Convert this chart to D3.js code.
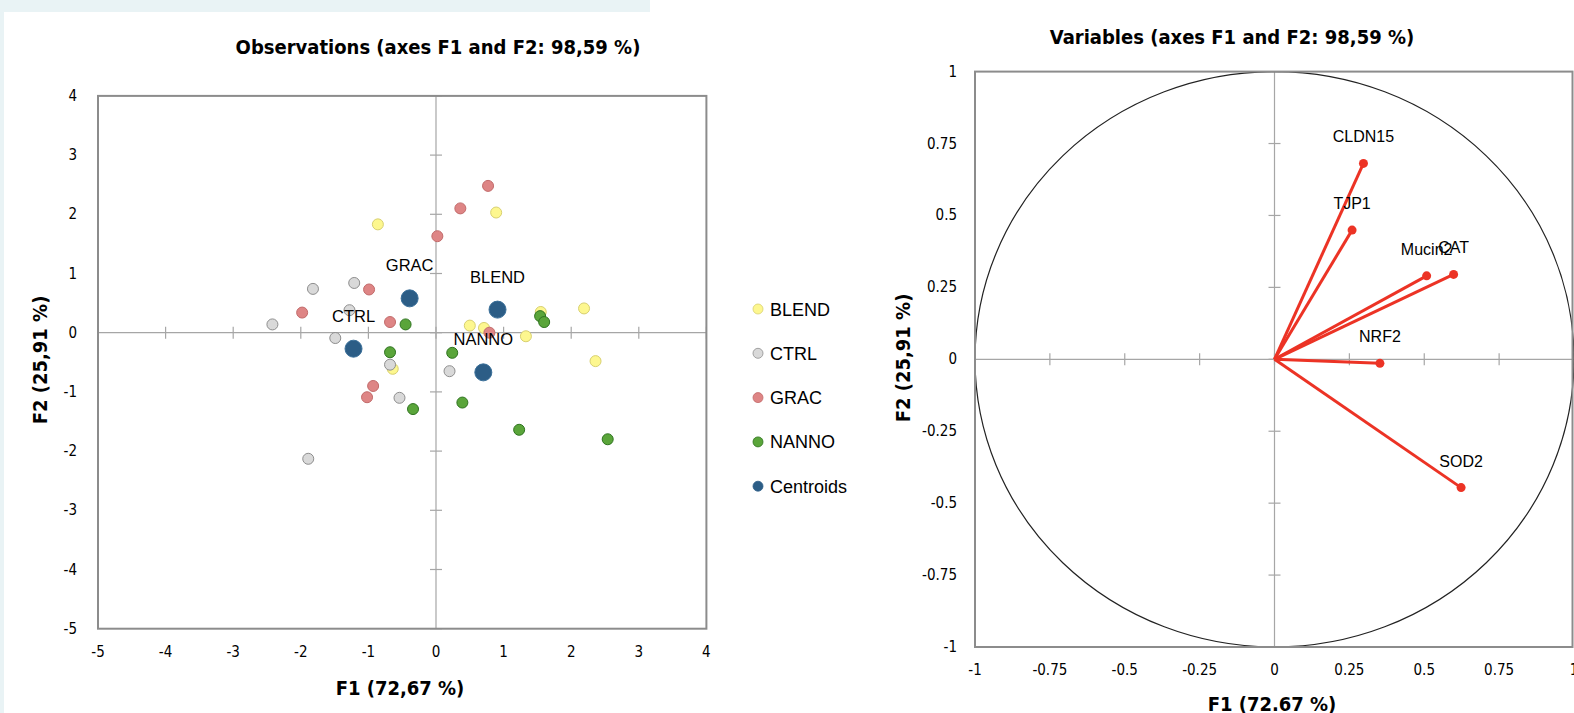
<!DOCTYPE html>
<html>
<head>
<meta charset="utf-8">
<script src="https://cdn.jsdelivr.net/npm/d3@7"></script>
<style>
  body { margin: 0; background: #fff; }
  .tick-lab { font-family: "Liberation Sans Narrow", "Arial Narrow", "DejaVu Sans Condensed", sans-serif; font-size: 15px; fill: #000; }
  .ttl { font-family: "Liberation Sans Narrow", "Arial Narrow", "DejaVu Sans Condensed", sans-serif; font-weight: bold; fill: #000; }
  .lab { font-family: "Liberation Sans", Arial, sans-serif; font-size: 16px; fill: #000; }
</style>
</head>
<body>
<script>
// group names + colours
var groups = ["BLEND", "CTRL", "GRAC", "NANNO"];
var fills = {BLEND: "#fdf78f", CTRL: "#d9d9d9", GRAC: "#de8585", NANNO: "#5aa53a", Centroids: "#2c5d86"};
var strokes = {BLEND: "#d8d070", CTRL: "#8e8e8e", GRAC: "#c26a6a", NANNO: "#2f7420", Centroids: "#2c5d86"};

// observations [F1, F2]
var blendObs = [[-0.86, 1.83], [0.89, 2.03], [0.50, 0.12], [0.71, 0.08], [1.55, 0.35], [2.19, 0.41], [1.33, -0.06], [2.36, -0.48], [-0.64, -0.61]];
var ctrlObs = [[-1.21, 0.84], [-1.82, 0.74], [-1.28, 0.38], [-2.42, 0.14], [-1.49, -0.09], [-0.68, -0.54], [0.20, -0.65], [-0.54, -1.10], [-1.89, -2.13]];
var gracObs = [[0.77, 2.48], [0.36, 2.10], [0.02, 1.63], [-0.99, 0.73], [-1.98, 0.34], [-0.68, 0.18], [0.79, 0.00], [-0.93, -0.90], [-1.02, -1.09]];
var nannoObs = [[-0.45, 0.14], [1.54, 0.28], [1.60, 0.18], [-0.68, -0.33], [0.24, -0.34], [0.39, -1.18], [-0.34, -1.29], [1.23, -1.64], [2.54, -1.80]];
var centroids = [["GRAC", -0.39, 0.58], ["BLEND", 0.91, 0.39], ["CTRL", -1.22, -0.27], ["NANNO", 0.70, -0.67]];

// variable loadings
var varNames = ["CLDN15", "TJP1", "Mucin2", "CAT", "NRF2", "SOD2"];
var varF1 = [0.297, 0.259, 0.508, 0.598, 0.352, 0.623];
var varF2 = [0.681, 0.449, 0.290, 0.295, -0.014, -0.446];

var obsXTicks = [-5, -4, -3, -2, -1, 0, 1, 2, 3, 4];
var obsYTicks = [-5, -4, -3, -2, -1, 0, 1, 2, 3, 4];
var varTicks = [-1, -0.75, -0.5, -0.25, 0, 0.25, 0.5, 0.75, 1];

var svg = d3.select("body").append("svg")
  .attr("width", 1574)
  .attr("height", 713);

// pale strip in the corner
svg.append("rect").attr("x", 0).attr("y", 0).attr("width", 650).attr("height", 12).attr("fill", "#e9f3f5");
svg.append("rect").attr("x", 0).attr("y", 0).attr("width", 4).attr("height", 713).attr("fill", "#e9f3f5");

// ---------- Observations ----------
var x1 = d3.scaleLinear().domain([-5, 4]).range([98, 706.4]);
var y1 = d3.scaleLinear().domain([-5, 4]).range([628.7, 95.9]);

var g1 = svg.append("g");

g1.append("text").attr("class", "ttl").style("font-size", "20px")
  .attr("x", 438).attr("y", 54).attr("text-anchor", "middle")
  .text("Observations (axes F1 and F2: 98,59 %)");

// zero lines with ticks
g1.append("line").attr("x1", x1(-5)).attr("x2", x1(4)).attr("y1", y1(0)).attr("y2", y1(0))
  .attr("stroke", "#a6a6a6").attr("stroke-width", 1.2);
g1.append("line").attr("x1", x1(0)).attr("x2", x1(0)).attr("y1", y1(-5)).attr("y2", y1(4))
  .attr("stroke", "#a6a6a6").attr("stroke-width", 1.2);
g1.selectAll(".xt").data(obsXTicks).enter().append("line")
  .attr("x1", d => x1(d)).attr("x2", d => x1(d))
  .attr("y1", y1(0) - 6).attr("y2", y1(0) + 6)
  .attr("stroke", "#a6a6a6").attr("stroke-width", 1.2);
g1.selectAll(".yt").data(obsYTicks).enter().append("line")
  .attr("y1", d => y1(d)).attr("y2", d => y1(d))
  .attr("x1", x1(0) - 6).attr("x2", x1(0) + 6)
  .attr("stroke", "#a6a6a6").attr("stroke-width", 1.2);

g1.append("rect").attr("x", x1(-5)).attr("y", y1(4))
  .attr("width", x1(4) - x1(-5)).attr("height", y1(-5) - y1(4))
  .attr("fill", "none").attr("stroke", "#8c8c8c").attr("stroke-width", 2);

g1.selectAll(".xl").data(obsXTicks).enter().append("text")
  .attr("class", "tick-lab").attr("text-anchor", "middle")
  .attr("x", d => x1(d)).attr("y", 657).text(d => d);
g1.selectAll(".yl").data(obsYTicks).enter().append("text")
  .attr("class", "tick-lab").attr("text-anchor", "end")
  .attr("x", 77).attr("y", d => y1(d) + 5).text(d => d);

g1.append("text").attr("class", "ttl").style("font-size", "20px")
  .attr("x", 400).attr("y", 695).attr("text-anchor", "middle").text("F1 (72,67 %)");
g1.append("text").attr("class", "ttl").style("font-size", "20px")
  .attr("transform", "translate(47,360) rotate(-90)").attr("text-anchor", "middle").text("F2 (25,91 %)");

var obsSets = [["BLEND", blendObs], ["CTRL", ctrlObs], ["GRAC", gracObs], ["NANNO", nannoObs]];
obsSets.forEach(function(s) {
  g1.selectAll(".dot-" + s[0]).data(s[1]).enter().append("circle")
    .attr("cx", d => x1(d[0])).attr("cy", d => y1(d[1])).attr("r", 5.5)
    .attr("fill", fills[s[0]]).attr("stroke", strokes[s[0]]).attr("stroke-width", 1);
});

g1.selectAll(".cent").data(centroids).enter().append("circle")
  .attr("cx", d => x1(d[1])).attr("cy", d => y1(d[2])).attr("r", 8.5)
  .attr("fill", fills.Centroids).attr("stroke", "#3a6f99").attr("stroke-width", 1);
g1.selectAll(".centlab").data(centroids).enter().append("text")
  .attr("class", "lab").style("font-size", "16.5px").attr("text-anchor", "middle")
  .attr("x", d => x1(d[1])).attr("y", d => y1(d[2]) - 27).text(d => d[0]);

// legend
var legItems = groups.concat(["Centroids"]);
var leg = g1.selectAll(".leg").data(legItems).enter().append("g")
  .attr("transform", (d, i) => "translate(758," + (309 + i * 44.3) + ")");
leg.append("circle").attr("r", 5).attr("fill", d => fills[d]).attr("stroke", d => strokes[d]).attr("stroke-width", 0.8);
leg.append("text").attr("class", "lab").style("font-size", "18px").attr("x", 12).attr("y", 6.5).text(d => d);

// ---------- Variables ----------
var x2 = d3.scaleLinear().domain([-1, 1]).range([975, 1574]);
var y2 = d3.scaleLinear().domain([-1, 1]).range([647, 71.6]);
var g2 = svg.append("g");

g2.append("text").attr("class", "ttl").style("font-size", "20px")
  .attr("x", 1232).attr("y", 44).attr("text-anchor", "middle")
  .text("Variables (axes F1 and F2: 98,59 %)");

g2.append("line").attr("x1", x2(-1)).attr("x2", x2(1)).attr("y1", y2(0)).attr("y2", y2(0))
  .attr("stroke", "#a6a6a6").attr("stroke-width", 1.2);
g2.append("line").attr("x1", x2(0)).attr("x2", x2(0)).attr("y1", y2(-1)).attr("y2", y2(1))
  .attr("stroke", "#a6a6a6").attr("stroke-width", 1.2);
g2.selectAll(".xt").data(varTicks).enter().append("line")
  .attr("x1", d => x2(d)).attr("x2", d => x2(d))
  .attr("y1", y2(0) - 6).attr("y2", y2(0) + 6)
  .attr("stroke", "#a6a6a6").attr("stroke-width", 1.2);
g2.selectAll(".yt").data(varTicks).enter().append("line")
  .attr("y1", d => y2(d)).attr("y2", d => y2(d))
  .attr("x1", x2(0) - 6).attr("x2", x2(0) + 6)
  .attr("stroke", "#a6a6a6").attr("stroke-width", 1.2);

// correlation circle
g2.append("ellipse").attr("cx", x2(0)).attr("cy", y2(0))
  .attr("rx", x2(1) - x2(0)).attr("ry", y2(0) - y2(1))
  .attr("fill", "none").attr("stroke", "#222").attr("stroke-width", 1.2);

g2.append("rect").attr("x", x2(-1)).attr("y", y2(1))
  .attr("width", x2(1) - 1.5 - x2(-1)).attr("height", y2(-1) - y2(1))
  .attr("fill", "none").attr("stroke", "#8c8c8c").attr("stroke-width", 2);

g2.selectAll(".xl").data(varTicks).enter().append("text")
  .attr("class", "tick-lab").attr("text-anchor", "middle")
  .attr("x", d => x2(d)).attr("y", 675).text(d => d);
g2.selectAll(".yl").data(varTicks).enter().append("text")
  .attr("class", "tick-lab").attr("text-anchor", "end")
  .attr("x", 957).attr("y", d => y2(d) + 5).text(d => d);

g2.append("text").attr("class", "ttl").style("font-size", "20px")
  .attr("x", 1272).attr("y", 711).attr("text-anchor", "middle").text("F1 (72.67 %)");
g2.append("text").attr("class", "ttl").style("font-size", "20px")
  .attr("transform", "translate(910,358) rotate(-90)").attr("text-anchor", "middle").text("F2 (25,91 %)");

var vars = varNames.map((n, i) => ({name: n, f1: varF1[i], f2: varF2[i]}));
g2.selectAll(".vec").data(vars).enter().append("line")
  .attr("x1", x2(0)).attr("y1", y2(0))
  .attr("x2", d => x2(d.f1)).attr("y2", d => y2(d.f2))
  .attr("stroke", "#ec3325").attr("stroke-width", 3);
g2.selectAll(".vdot").data(vars).enter().append("circle")
  .attr("cx", d => x2(d.f1)).attr("cy", d => y2(d.f2)).attr("r", 4.5)
  .attr("fill", "#ec3325");
g2.selectAll(".vlab").data(vars).enter().append("text")
  .attr("class", "lab").attr("text-anchor", "middle")
  .attr("x", d => x2(d.f1)).attr("y", d => y2(d.f2) - 21).text(d => d.name);
</script>
</body>
</html>
